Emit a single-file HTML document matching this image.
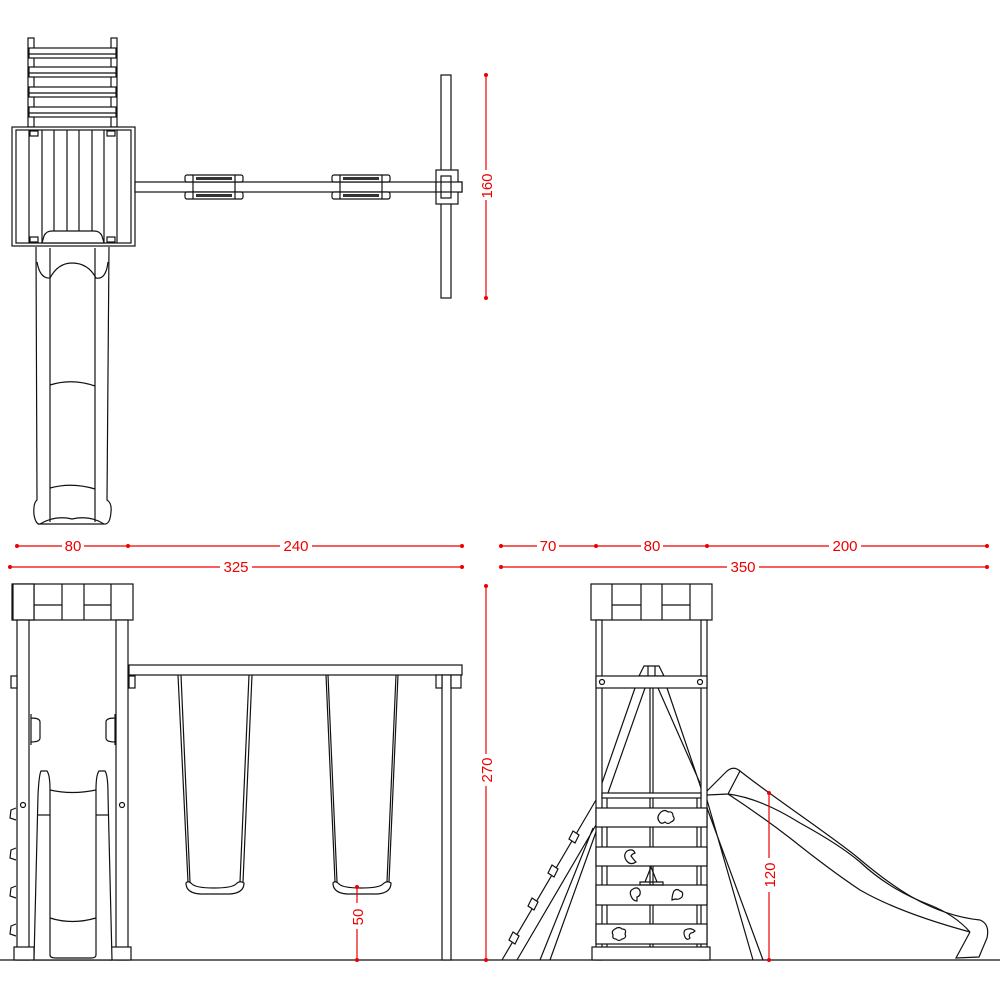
<!DOCTYPE html>
<html><head><meta charset="utf-8"><style>
html,body{margin:0;padding:0;background:#fff}
svg{display:block}
.k{fill:none;stroke:#111;stroke-width:1.2}
.w{fill:#fff;stroke:#111;stroke-width:1.2}
.r{stroke:#e00;stroke-width:1.2;fill:none}
.rd{fill:#e00}
.t{font-family:"Liberation Sans",sans-serif;font-size:15px;fill:#e00}
</style></head><body>
<svg width="1000" height="1000" viewBox="0 0 1000 1000">
<!-- ===== TOP VIEW ===== -->
<g>
<rect class="k" x="28" y="38" width="6" height="89"/>
<rect class="k" x="111" y="38" width="6" height="89"/>
<rect class="w" x="29" y="48" width="87" height="10"/><line class="k" x1="29" y1="54" x2="116" y2="54"/>
<rect class="w" x="29" y="67" width="87" height="10"/><line class="k" x1="29" y1="73" x2="116" y2="73"/>
<rect class="w" x="29" y="87" width="87" height="10"/><line class="k" x1="29" y1="93" x2="116" y2="93"/>
<rect class="w" x="29" y="107" width="87" height="10"/><line class="k" x1="29" y1="113" x2="116" y2="113"/>
<rect class="w" x="12" y="127" width="123" height="119"/>
<rect class="k" x="16" y="130" width="115" height="113"/>
<line class="k" x1="29" y1="130" x2="29" y2="243"/>
<line class="k" x1="42" y1="130" x2="42" y2="243"/>
<line class="k" x1="54" y1="130" x2="54" y2="243"/>
<line class="k" x1="67" y1="130" x2="67" y2="243"/>
<line class="k" x1="79" y1="130" x2="79" y2="243"/>
<line class="k" x1="92" y1="130" x2="92" y2="243"/>
<line class="k" x1="104" y1="130" x2="104" y2="243"/>
<line class="k" x1="117" y1="130" x2="117" y2="243"/>
<rect class="k" x="30" y="131" width="8" height="5"/><rect class="k" x="107" y="131" width="8" height="5"/>
<rect class="k" x="30" y="237" width="8" height="5"/><rect class="k" x="107" y="237" width="8" height="5"/>
<path class="w" d="M42,243 L44,236 Q46,231 52,231 L94,231 Q100,231 102,236 L104,243 Z"/>
<path class="k" d="M36,247 L37,500 Q33,503 34,515 Q36,525 40,524 L104,524 Q110,525 111,512 Q112,503 107,500 L109,247"/>
<path class="k" d="M37,262 Q40,279 50,278 Q58,263 72,263 Q88,263 96,278 Q106,280 108,262"/>
<line class="k" x1="50" y1="248" x2="50" y2="522"/>
<line class="k" x1="95" y1="248" x2="95" y2="522"/>
<path class="k" d="M50,385 Q72,378 95,386"/>
<path class="k" d="M50,488 Q72,482 95,489"/>
<path class="k" d="M40,524 Q55,515 72,519 Q90,515 104,524"/>
<rect class="w" x="135" y="182" width="327" height="10"/>
<g>
<rect class="w" x="185" y="175" width="58" height="7" rx="2"/>
<rect class="w" x="185" y="192" width="58" height="7" rx="2"/>
<rect fill="#333" x="196" y="177" width="36" height="3"/><rect fill="#333" x="196" y="194" width="36" height="3"/>
<line class="k" x1="193" y1="175" x2="193" y2="199"/><line class="k" x1="235" y1="175" x2="235" y2="199"/>
</g>
<g transform="translate(147,0)">
<rect class="w" x="185" y="175" width="58" height="7" rx="2"/>
<rect class="w" x="185" y="192" width="58" height="7" rx="2"/>
<rect fill="#333" x="196" y="177" width="36" height="3"/><rect fill="#333" x="196" y="194" width="36" height="3"/>
<line class="k" x1="193" y1="175" x2="193" y2="199"/><line class="k" x1="235" y1="175" x2="235" y2="199"/>
</g>
<rect class="w" x="441" y="75" width="10" height="223"/>
<rect class="w" x="436" y="170" width="22" height="34"/>
<rect class="w" x="441" y="176" width="10" height="22"/>
<rect class="w" x="436" y="182" width="26" height="10"/>
<line class="k" x1="441" y1="182" x2="441" y2="192"/><line class="k" x1="451" y1="182" x2="451" y2="192"/>
<line class="r" x1="486" y1="75" x2="486" y2="298"/>
<circle class="rd" cx="486" cy="75" r="2"/><circle class="rd" cx="486" cy="298" r="2"/>
<rect fill="#fff" x="479" y="170" width="14" height="30"/>
<text class="t" transform="translate(492,186) rotate(-90)" text-anchor="middle">160</text>
</g>

<!-- ===== DIMENSIONS ===== -->
<g>
<line class="r" x1="17" y1="546" x2="462" y2="546"/>
<circle class="rd" cx="17" cy="546" r="2"/><circle class="rd" cx="128" cy="546" r="2"/><circle class="rd" cx="462" cy="546" r="2"/>
<rect fill="#fff" x="62" y="538" width="22" height="16"/><text class="t" x="73" y="551" text-anchor="middle">80</text>
<rect fill="#fff" x="280" y="538" width="32" height="16"/><text class="t" x="296" y="551" text-anchor="middle">240</text>
<line class="r" x1="10" y1="567" x2="462" y2="567"/>
<circle class="rd" cx="10" cy="567" r="2"/><circle class="rd" cx="462" cy="567" r="2"/>
<rect fill="#fff" x="220" y="559" width="32" height="16"/><text class="t" x="236" y="572" text-anchor="middle">325</text>
<line class="r" x1="501" y1="546" x2="987" y2="546"/>
<circle class="rd" cx="501" cy="546" r="2"/><circle class="rd" cx="596" cy="546" r="2"/><circle class="rd" cx="707" cy="546" r="2"/><circle class="rd" cx="987" cy="546" r="2"/>
<rect fill="#fff" x="537" y="538" width="22" height="16"/><text class="t" x="548" y="551" text-anchor="middle">70</text>
<rect fill="#fff" x="641" y="538" width="22" height="16"/><text class="t" x="652" y="551" text-anchor="middle">80</text>
<rect fill="#fff" x="829" y="538" width="32" height="16"/><text class="t" x="845" y="551" text-anchor="middle">200</text>
<line class="r" x1="501" y1="567" x2="987" y2="567"/>
<circle class="rd" cx="501" cy="567" r="2"/><circle class="rd" cx="987" cy="567" r="2"/>
<rect fill="#fff" x="727" y="559" width="32" height="16"/><text class="t" x="743" y="572" text-anchor="middle">350</text>
</g>

<line class="k" x1="0" y1="960" x2="1000" y2="960"/>

<!-- ===== FRONT VIEW ===== -->
<g>
<rect class="w" x="12" y="584" width="121" height="36"/>
<path class="k" d="M34,584 V620 M62,584 V620 M84,584 V620 M111,584 V620 M34,605 H62 M84,605 H111"/>
<rect class="w" x="13" y="584" width="21" height="36"/>
<rect class="w" x="17" y="620" width="12" height="340"/>
<rect class="w" x="116" y="620" width="12" height="340"/>
<rect class="w" x="11" y="676" width="6" height="12"/>
<rect class="w" x="129" y="676" width="6" height="12"/>
<path class="k" d="M31,714 L31,745 M31,718 Q40,718 40,722 L40,738 Q40,742 31,742"/>
<path class="k" d="M115,714 L115,745 M115,718 Q106,718 106,722 L106,738 Q106,742 115,742"/>
<circle class="k" cx="23" cy="805" r="2.5"/><circle class="k" cx="122" cy="805" r="2.5"/>
<path class="k" d="M16,808 L11,810 L10,818 L16,820 M16,848 L11,850 L10,858 L16,860 M16,886 L11,888 L10,896 L16,898 M16,924 L11,926 L10,934 L16,936"/>
<rect class="w" x="14" y="947" width="20" height="13"/>
<rect class="w" x="110" y="947" width="21" height="13"/>
<path class="w" d="M34,960 L38,795 Q39,775 41,771 L47,771 Q50,775 50,790 L50,955 Q50,958 56,958 L91,958 Q96,958 96,955 L96,790 Q96,775 99,771 L105,771 Q108,775 108,795 L112,960 Z"/>
<path class="k" d="M50,790 Q72,795 96,790 M50,918 Q72,925 96,918"/>
<line class="k" x1="38" y1="815" x2="50" y2="815"/><line class="k" x1="96" y1="815" x2="108" y2="815"/>
<rect class="w" x="129" y="665" width="333" height="10"/>
<rect class="w" x="442" y="675" width="9" height="285"/>
<rect class="w" x="436" y="675" width="6" height="13"/>
<rect class="w" x="451" y="675" width="10" height="13"/>
<path class="k" d="M178,675 L188,882 M181,675 L190,882 M249,675 L240,882 M252,675 L243,882"/>
<path class="w" d="M186,883 Q186,893 200,894 L230,894 Q244,893 244,883 Q240,880 236,884 Q232,888 214,888 Q196,888 192,884 Q188,880 186,883 Z"/>
<path class="k" d="M326,675 L335,882 M328,675 L337,882 M396,675 L387,882 M398,675 L389,882"/>
<path class="w" d="M333,883 Q333,893 347,894 L377,894 Q391,893 391,883 Q387,880 383,884 Q379,888 361,888 Q343,888 339,884 Q335,880 333,883 Z"/>
<line class="r" x1="357" y1="887" x2="357" y2="960"/>
<circle class="rd" cx="357" cy="887" r="2"/><circle class="rd" cx="357" cy="960" r="2"/>
<rect fill="#fff" x="350" y="903" width="14" height="26"/>
<text class="t" transform="translate(363,917) rotate(-90)" text-anchor="middle">50</text>
<line class="r" x1="486" y1="586" x2="486" y2="960"/>
<circle class="rd" cx="486" cy="586" r="2"/><circle class="rd" cx="486" cy="960" r="2"/>
<rect fill="#fff" x="479" y="754" width="14" height="32"/>
<text class="t" transform="translate(492,770) rotate(-90)" text-anchor="middle">270</text>
</g>

<!-- ===== SIDE VIEW ===== -->
<g>
<path class="k" d="M596,800 L502,960 M596,825 L517,960 M593,828 L540,960 M596,832 L550,960"/>
<path class="w" d="M573,831 l6,4 l-4,8 l-6,-4 Z M552,865 l6,4 l-4,8 l-6,-4 Z M532,898 l6,4 l-4,8 l-6,-4 Z M513,932 l6,4 l-4,8 l-6,-4 Z"/>
<path class="k" d="M707,800 L753,960 M707,808 L763,960"/>
<rect class="w" x="591" y="584" width="121" height="36"/>
<path class="k" d="M612,584 V620 M641,584 V620 M662,584 V620 M690,584 V620 M612,605 H641 M662,605 H690"/>
<rect class="w" x="596" y="620" width="6" height="340"/>
<rect class="w" x="701" y="620" width="6" height="340"/>
<path class="k" d="M635,688 L602,783 M645,688 L608,793 M658,688 L700,783 M667,688 L701,788"/>
<line class="k" x1="650" y1="688" x2="650" y2="947"/><line class="k" x1="653" y1="688" x2="653" y2="947"/>
<path class="w" d="M639,676 L644,666 L659,666 L664,676 Z"/>
<line class="k" x1="648" y1="666" x2="648" y2="676"/><line class="k" x1="655" y1="666" x2="655" y2="676"/>
<rect class="w" x="596" y="676" width="111" height="12"/>
<circle class="k" cx="602" cy="682" r="2.5"/><circle class="k" cx="700" cy="682" r="2.5"/>
<rect class="w" x="602" y="793" width="99" height="5"/>
<line class="k" x1="607" y1="798" x2="607" y2="947"/><line class="k" x1="697" y1="798" x2="697" y2="947"/>
<rect class="w" x="596" y="808" width="111" height="19"/>
<rect class="w" x="596" y="847" width="111" height="19"/>
<rect class="w" x="596" y="885" width="111" height="20"/>
<rect class="w" x="596" y="924" width="111" height="20"/>
<rect class="w" x="592" y="947" width="118" height="13"/>
<path class="k" d="M661,812 q4,-3 7,0 q5,-1 5,4 q3,4 -2,6 q-3,3 -6,0 q-4,3 -6,-1 q-3,-4 2,-9 Z"/>
<path class="k" d="M627,851 q6,-3 8,2 q-3,1 -4,3 q3,4 5,6 q-6,4 -10,-2 q-3,-5 1,-9 Z"/>
<path class="k" d="M645,882 L651,867 L657,882 Z M640,882 H663 V885 H640 Z"/>
<path class="k" d="M633,889 q5,-3 7,2 q1,5 -3,6 l0,4 q-4,0 -6,-5 q-2,-5 2,-7 Z"/>
<path class="k" d="M674,891 q3,-3 6,0 q4,1 2,6 q-3,3 -7,2 l-3,1 q0,-5 2,-9 Z"/>
<path class="k" d="M615,929 q4,-3 7,0 q5,0 3,5 q2,4 -3,5 q-3,3 -6,0 q-4,0 -3,-4 q-2,-4 2,-6 Z"/>
<path class="k" d="M685,930 q6,-3 10,1 q-2,2 -4,2 q-3,2 -1,5 q-3,3 -5,-1 q-2,-4 0,-7 Z"/>
<!-- slide side -->
<path class="k" d="M707,791 Q718,780 726,772 Q733,765 740,771 L728,794 L707,795"/>
<path class="k" d="M740,771 C770,795 830,835 857,857 C890,885 930,915 980,920 Q990,924 987,938 L979,957 L956,958 Q963,945 970,932"/>
<path class="k" d="M728,794 Q760,798 800,823 Q840,845 860,862 Q890,890 930,905 Q955,915 970,932"/>
<path class="k" d="M728,794 Q760,815 790,838 Q830,870 860,890 Q900,913 970,932"/>
<line class="r" x1="769" y1="793" x2="769" y2="960"/>
<circle class="rd" cx="769" cy="793" r="2"/><circle class="rd" cx="769" cy="960" r="2"/>
<rect fill="#fff" x="762" y="858" width="14" height="34"/>
<text class="t" transform="translate(775,875) rotate(-90)" text-anchor="middle">120</text>
</g>
</svg>
</body></html>
